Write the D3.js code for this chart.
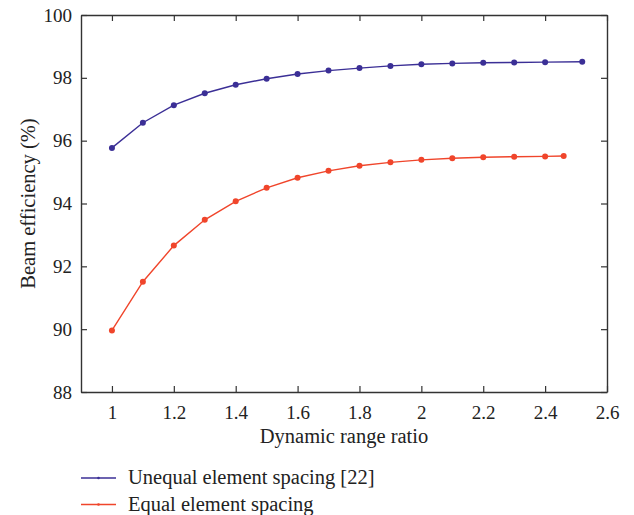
<!DOCTYPE html>
<html>
<head>
<meta charset="utf-8">
<script src="https://cdn.jsdelivr.net/npm/d3@7"></script>
<style>
  body { margin: 0; background: #fff; }
  text { font-family: "Liberation Serif", "DejaVu Serif", serif; fill: #222; }
</style>
</head>
<body>
<div id="chart"></div>
<script>
// data
const unequalX = [1, 1.1, 1.2, 1.3, 1.4, 1.5, 1.6, 1.7, 1.8, 1.9, 2, 2.1, 2.2, 2.3, 2.4, 2.52];
const unequalY = [95.77, 96.57, 97.13, 97.51, 97.78, 97.97, 98.12, 98.23, 98.31, 98.38, 98.43, 98.46, 98.48, 98.49, 98.5, 98.51];
const equalX = [1, 1.1, 1.2, 1.3, 1.4, 1.5, 1.6, 1.7, 1.8, 1.9, 2, 2.1, 2.2, 2.3, 2.4, 2.46];
const equalY = [89.96, 91.51, 92.66, 93.48, 94.07, 94.5, 94.82, 95.04, 95.2, 95.31, 95.39, 95.44, 95.47, 95.49, 95.5, 95.51];
const xTicks = [1, 1.2, 1.4, 1.6, 1.8, 2, 2.2, 2.4, 2.6];
const yTicks = [88, 90, 92, 94, 96, 98, 100];
const seriesNames = ["Unequal element spacing [22]", "Equal element spacing"];
const colors = ["#3b2f96", "#f0452b"];

const W = 634, H = 515;
const margin = {top: 15, right: 27, bottom: 123, left: 81};
const width = W - margin.left - margin.right,
      height = H - margin.top - margin.bottom;

const svg = d3.select('#chart').append('svg')
  .attr('width', W).attr('height', H);

const g = svg.append('g')
  .attr('transform', `translate(${margin.left},${margin.top})`);

const x = d3.scaleLinear().domain([0.9, 2.6]).range([0, width]);
const y = d3.scaleLinear().domain([88, 100]).range([height, 0]);

const axisColor = '#333';
const fmt = d => String(d);

// axes with inward ticks on all four sides
const axBottom = g.append('g').attr('transform', `translate(0,${height})`)
  .call(d3.axisBottom(x).tickValues(xTicks).tickSizeInner(-6).tickSizeOuter(0).tickPadding(14).tickFormat(fmt));
const axTop = g.append('g')
  .call(d3.axisTop(x).tickValues(xTicks).tickSizeInner(-6).tickSizeOuter(0).tickFormat(''));
const axLeft = g.append('g')
  .call(d3.axisLeft(y).tickValues(yTicks).tickSizeInner(-6).tickSizeOuter(0).tickPadding(9).tickFormat(fmt));
const axRight = g.append('g').attr('transform', `translate(${width},0)`)
  .call(d3.axisRight(y).tickValues(yTicks).tickSizeInner(-6).tickSizeOuter(0).tickFormat(''));

[axBottom, axTop, axLeft, axRight].forEach(a => {
  a.select('.domain').attr('stroke', axisColor).attr('stroke-width', 1.4);
  a.selectAll('.tick line').attr('stroke', axisColor).attr('stroke-width', 1.2);
  a.selectAll('.tick text').style('font-family', '"Liberation Serif", serif')
    .style('font-size', '19px').attr('fill', '#222');
});

// series
const series = [
  unequalX.map((d, i) => ({x: d, y: unequalY[i]})),
  equalX.map((d, i) => ({x: d, y: equalY[i]}))
];

const line = d3.line().x(d => x(d.x)).y(d => y(d.y));

series.forEach((s, i) => {
  g.append('path')
    .datum(s)
    .attr('fill', 'none')
    .attr('stroke', colors[i])
    .attr('stroke-width', 1.4)
    .attr('d', line);

  g.selectAll('.pt' + i)
    .data(s)
    .enter().append('circle')
    .attr('class', 'pt' + i)
    .attr('cx', d => x(d.x))
    .attr('cy', d => y(d.y))
    .attr('r', 3)
    .attr('fill', colors[i]);
});

// axis titles
svg.append('text')
  .attr('x', margin.left + width / 2)
  .attr('y', 443)
  .attr('text-anchor', 'middle')
  .style('font-size', '20.5px')
  .text('Dynamic range ratio');

svg.append('text')
  .attr('transform', `translate(35,${margin.top + height / 2}) rotate(-90)`)
  .attr('text-anchor', 'middle')
  .style('font-size', '20.5px')
  .text('Beam efficiency (%)');

// legend
const legend = svg.append('g').attr('transform', 'translate(81,478)');
seriesNames.forEach((name, i) => {
  const row = legend.append('g').attr('transform', `translate(0,${i * 26.5})`);
  row.append('line')
    .attr('x1', 0).attr('x2', 35)
    .attr('stroke', colors[i]).attr('stroke-width', 1.4);
  row.append('circle').attr('cx', 17.5).attr('r', 1.3).attr('fill', colors[i]);
  row.append('text')
    .attr('x', 47).attr('y', 6)
    .style('font-size', '20.5px')
    .text(name);
});
</script>
</body>
</html>
